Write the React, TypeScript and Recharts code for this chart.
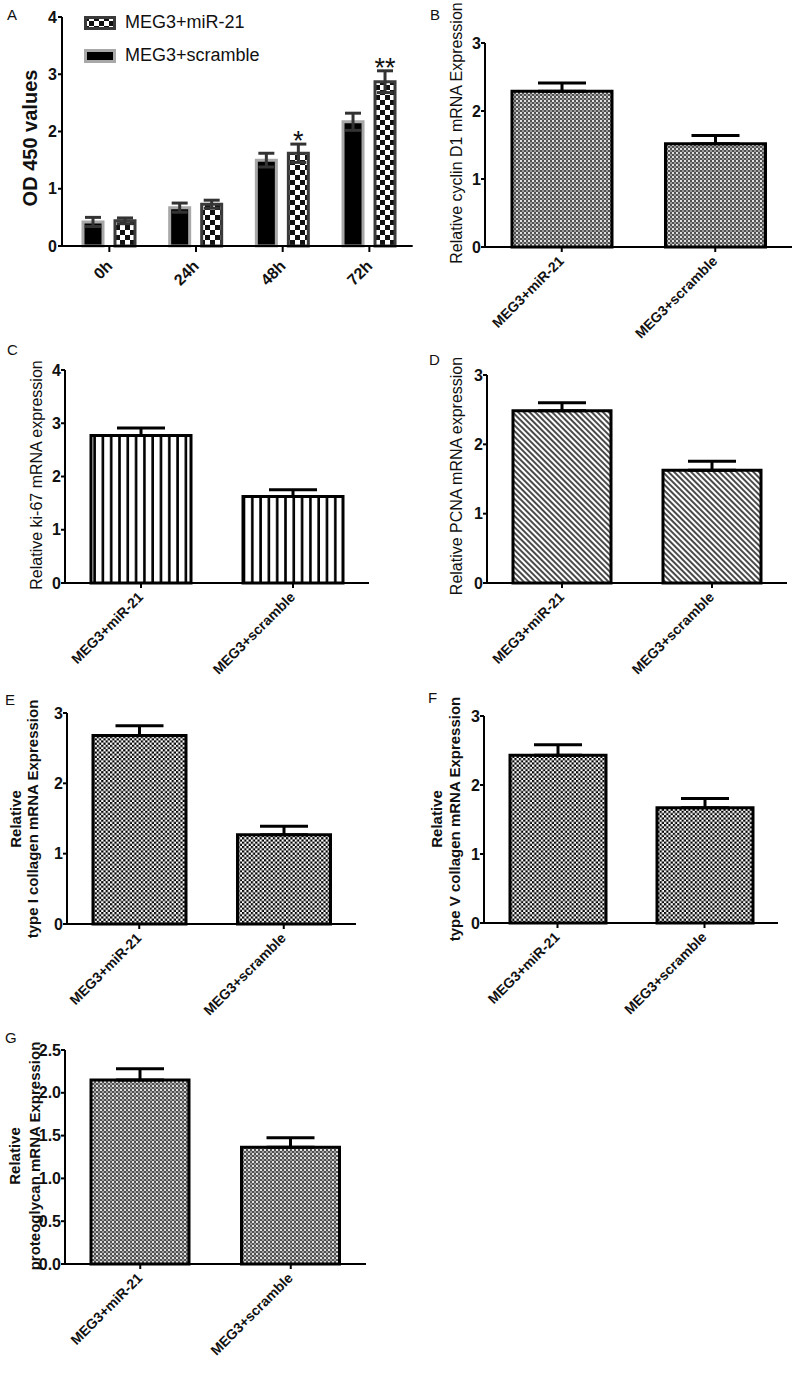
import React from "react";
import { BarChart, Bar, XAxis, YAxis, ErrorBar, LabelList, Legend } from "recharts";

const FONT = '"Liberation Sans", Arial, Helvetica, sans-serif';
const INK = "#111";

// Panel A — OD450 time course
const timePoints = ["0h", "24h", "48h", "72h"];
const scrambleOD = [0.42, 0.67, 1.5, 2.17];
const scrambleSD = [0.08, 0.08, 0.12, 0.15];
const mir21OD = [0.44, 0.73, 1.62, 2.87];
const mir21SD = [0.05, 0.07, 0.16, 0.19];
const odStars = ["", "", "*", "**"];
const odTicks = [0, 1, 2, 3, 4];

// Panels B–G — two groups each
const groups = ["MEG3+miR-21", "MEG3+scramble"];
const cyclinD1 = [2.29, 1.52];
const cyclinD1Err = [0.12, 0.12];
const ki67 = [2.77, 1.625];
const ki67Err = [0.14, 0.125];
const pcna = [2.485, 1.625];
const pcnaErr = [0.115, 0.13];
const collagenI = [2.68, 1.27];
const collagenIErr = [0.14, 0.12];
const collagenV = [2.43, 1.67];
const collagenVErr = [0.155, 0.135];
const proteoglycan = [2.15, 1.363];
const proteoglycanErr = [0.13, 0.113];
const ticks3 = [0, 1, 2, 3];
const ticks4 = [0, 1, 2, 3, 4];
const ticks25 = [0, 0.5, 1, 1.5, 2, 2.5];

/* ─── patterns ─────────────────────────────────────────── */

function Pattern({ id, kind }: { id: string; kind: string }) {
  if (kind === "fine") {
    return (
      <pattern id={id} width={4} height={4} patternUnits="userSpaceOnUse">
        <rect width={4} height={4} fill="#505050" />
        <rect x={0} y={0} width={2} height={2} fill="#e0e0e0" />
        <rect x={2} y={2} width={2} height={2} fill="#9a9a9a" />
      </pattern>
    );
  }
  if (kind === "stripes") {
    return (
      <pattern id={id} width={8.3} height={10} patternUnits="userSpaceOnUse">
        <rect width={8.3} height={10} fill="#fff" />
        <rect x={2} width={2.6} height={10} fill="#000" />
      </pattern>
    );
  }
  if (kind === "hatch") {
    return (
      <pattern id={id} width={4} height={4} patternUnits="userSpaceOnUse" patternTransform="rotate(-45)">
        <rect width={4} height={4} fill="#fff" />
        <rect width={2} height={4} fill="#4a4a4a" />
      </pattern>
    );
  }
  if (kind === "big") {
    return (
      <pattern id={id} width={10} height={10} patternUnits="userSpaceOnUse">
        <rect width={10} height={10} fill="#fff" />
        <rect width={5} height={5} fill="#111" />
        <rect x={5} y={5} width={5} height={5} fill="#111" />
      </pattern>
    );
  }
  // checker (E, F)
  return (
    <pattern id={id} width={4.4} height={4.4} patternUnits="userSpaceOnUse">
      <rect width={4.4} height={4.4} fill="#fff" />
      <rect width={2.2} height={2.2} fill="#000" />
      <rect x={2.2} y={2.2} width={2.2} height={2.2} fill="#000" />
    </pattern>
  );
}

/* ─── shared bits ──────────────────────────────────────── */

function makeTitle(lines: string[], xs: number[], cy: number, size: number, weight: string) {
  return function TitleContent() {
    return (
      <g>
        {lines.map((t, i) => (
          <text
            key={t}
            x={xs[i]}
            y={cy}
            transform={`rotate(-90, ${xs[i]}, ${cy})`}
            textAnchor="middle"
            dominantBaseline="central"
            fontFamily={FONT}
            fontSize={size}
            fontWeight={weight}
            fill={INK}
          >
            {t}
          </text>
        ))}
      </g>
    );
  };
}

function RotatedTick(props: any) {
  const { x, y, payload, size, dx, dy } = props;
  const ax = x + dx;
  const ay = y + dy;
  return (
    <text
      x={ax}
      y={ay}
      transform={`rotate(-45, ${ax}, ${ay})`}
      textAnchor="end"
      fontFamily={FONT}
      fontSize={size}
      fontWeight="bold"
      fill={INK}
    >
      {payload.value}
    </text>
  );
}

function PanelLetter({ letter, x, baseline }: { letter: string; x: number; baseline: number }) {
  return (
    <div
      style={{
        position: "absolute",
        left: x,
        top: baseline - 12.7,
        fontFamily: FONT,
        fontSize: 15,
        lineHeight: "15px",
        color: INK,
      }}
    >
      {letter}
    </div>
  );
}

type Box = { left: number; top: number; width: number; height: number };
type Plot = { x0: number; x1: number; y0: number; y1: number };

/* ─── Panel A ──────────────────────────────────────────── */

function LegendSwatch({ kind }: { kind: "checker" | "black" }) {
  return (
    <svg width={32} height={14} style={{ display: "block" }}>
      {kind === "checker" && (
        <defs>
          <Pattern id="legend-big" kind="big" />
        </defs>
      )}
      <rect
        x={1.5}
        y={1.5}
        width={29}
        height={11}
        fill={kind === "checker" ? "url(#legend-big)" : "#000"}
        stroke={kind === "checker" ? "#3a3a3a" : "#a8a8a8"}
        strokeWidth={3}
      />
    </svg>
  );
}

function LegendA() {
  const rows: { name: string; kind: "checker" | "black" }[] = [
    { name: "MEG3+miR-21", kind: "checker" },
    { name: "MEG3+scramble", kind: "black" },
  ];
  return (
    <div style={{ fontFamily: FONT, fontSize: 18, color: INK }}>
      {rows.map((r) => (
        <div key={r.name} style={{ display: "flex", alignItems: "center", height: 33 }}>
          <LegendSwatch kind={r.kind} />
          <span style={{ marginLeft: 9, whiteSpace: "nowrap" }}>{r.name}</span>
        </div>
      ))}
    </div>
  );
}

function StarLabel(props: any) {
  const vb = props.viewBox ?? props;
  const { index, value } = props;
  if (!value) return null;
  const v = mir21OD[index];
  const sd = mir21SD[index];
  const pxPerUnit = vb.height / v;
  const errTop = vb.y - sd * pxPerUnit;
  return (
    <text x={vb.x + vb.width / 2} y={errTop + 6} textAnchor="middle" fontFamily={FONT} fontSize={27} fill={INK}>
      {value}
    </text>
  );
}

function PanelA() {
  const box: Box = { left: 0, top: 0, width: 414, height: 350 };
  const plot: Plot = { x0: 62, x1: 412.7, y0: 17, y1: 246 };
  const data = timePoints.map((t, i) => ({
    time: t,
    scramble: scrambleOD[i],
    scrambleSd: scrambleSD[i],
    mir21: mir21OD[i],
    mir21Sd: mir21SD[i],
    star: odStars[i],
  }));
  return (
    <div style={{ position: "absolute", left: box.left, top: box.top }}>
      <BarChart
        width={box.width}
        height={box.height}
        data={data}
        margin={{ top: plot.y0 - box.top, right: box.left + box.width - plot.x1, left: 0, bottom: 0 }}
        barSize={20}
        barGap={12}
      >
        <defs>
          <Pattern id="pat-a" kind="big" />
        </defs>
        <XAxis
          dataKey="time"
          height={box.top + box.height - plot.y1}
          padding={{ left: 4, right: 0 }}
          interval={0}
          axisLine={{ stroke: "#000", strokeWidth: 2 }}
          tickLine={{ stroke: "#000", strokeWidth: 2 }}
          tickSize={6}
          tick={(p: any) => <RotatedTick {...p} size={16} dx={4} dy={13} />}
        />
        <YAxis
          width={plot.x0 - box.left}
          domain={[0, 4]}
          ticks={odTicks}
          interval={0}
          axisLine={{ stroke: "#000", strokeWidth: 2 }}
          tickLine={{ stroke: "#000", strokeWidth: 2 }}
          tickSize={4}
          tickMargin={1}
          tick={{ fill: INK, fontSize: 16, fontWeight: "bold", fontFamily: FONT }}
          label={makeTitle(["OD 450 values"], [30], 138, 20, "bold")}
        />
        <Legend
          layout="vertical"
          align="center"
          verticalAlign="middle"
          content={() => <LegendA />}
          wrapperStyle={{ left: 84, top: 6, width: 220, height: 66 }}
        />
        <Bar dataKey="scramble" fill="#000" stroke="#a8a8a8" strokeWidth={3} isAnimationActive={false}>
          <ErrorBar dataKey="scrambleSd" direction="y" width={8} stroke="#333" strokeWidth={3} />
        </Bar>
        <Bar dataKey="mir21" fill="url(#pat-a)" stroke="#3a3a3a" strokeWidth={3} isAnimationActive={false}>
          <ErrorBar dataKey="mir21Sd" direction="y" width={8} stroke="#333" strokeWidth={3} />
          <LabelList dataKey="star" content={StarLabel} />
        </Bar>
      </BarChart>
    </div>
  );
}

/* ─── Panels B–G ───────────────────────────────────────── */

type PanelSpec = {
  id: string;
  box: Box;
  plot: Plot;
  values: number[];
  errors: number[];
  ticks: number[];
  decimals: number;
  title: string[];
  titleX: number[];
  titleY: number;
  titleBold: boolean;
  fill: string;
  barSize: number;
};

function ExpressionPanel({ spec }: { spec: PanelSpec }) {
  const { box, plot } = spec;
  const data = groups.map((g, i) => ({ group: g, value: spec.values[i], err: [0, spec.errors[i]] }));
  const patId = `pat-${spec.id}`;
  return (
    <div style={{ position: "absolute", left: box.left, top: box.top }}>
      <BarChart
        width={box.width}
        height={box.height}
        data={data}
        margin={{ top: plot.y0 - box.top, right: box.left + box.width - plot.x1, left: 0, bottom: 0 }}
      >
        <defs>
          <Pattern id={patId} kind={spec.fill} />
        </defs>
        <XAxis
          dataKey="group"
          height={box.top + box.height - plot.y1}
          interval={0}
          axisLine={{ stroke: "#000", strokeWidth: 2 }}
          tickLine={{ stroke: "#000", strokeWidth: 2 }}
          tickSize={5}
          tick={(p: any) => <RotatedTick {...p} size={14} dx={3} dy={8} />}
        />
        <YAxis
          width={plot.x0 - box.left}
          domain={[spec.ticks[0], spec.ticks[spec.ticks.length - 1]]}
          ticks={spec.ticks}
          interval={0}
          tickFormatter={(v: number) => v.toFixed(spec.decimals)}
          axisLine={{ stroke: "#000", strokeWidth: 2 }}
          tickLine={{ stroke: "#000", strokeWidth: 2 }}
          tickSize={4}
          tickMargin={0}
          tick={{ fill: INK, fontSize: 16, fontWeight: "bold", fontFamily: FONT }}
          label={makeTitle(
            spec.title,
            spec.titleX.map((x) => x - box.left),
            spec.titleY - box.top,
            spec.titleBold ? 15 : 16,
            spec.titleBold ? "bold" : "normal"
          )}
        />
        <Bar
          dataKey="value"
          fill={`url(#${patId})`}
          stroke="#000"
          strokeWidth={3}
          barSize={spec.barSize}
          isAnimationActive={false}
        >
          <ErrorBar dataKey="err" direction="y" width={24} stroke="#000" strokeWidth={3} />
        </Bar>
      </BarChart>
    </div>
  );
}

const panelSpecs: PanelSpec[] = [
  {
    id: "b",
    box: { left: 400, top: 0, width: 400, height: 350 },
    plot: { x0: 485, x1: 792, y0: 43, y1: 247 },
    values: cyclinD1,
    errors: cyclinD1Err,
    ticks: ticks3,
    decimals: 0,
    title: ["Relative cyclin D1 mRNA Expression"],
    titleX: [456],
    titleY: 133,
    titleBold: false,
    fill: "fine",
    barSize: 100,
  },
  {
    id: "c",
    box: { left: 0, top: 335, width: 400, height: 345 },
    plot: { x0: 65, x1: 369, y0: 370, y1: 583 },
    values: ki67,
    errors: ki67Err,
    ticks: ticks4,
    decimals: 0,
    title: ["Relative ki-67 mRNA expression"],
    titleX: [36],
    titleY: 475,
    titleBold: false,
    fill: "stripes",
    barSize: 100,
  },
  {
    id: "d",
    box: { left: 400, top: 335, width: 400, height: 345 },
    plot: { x0: 487, x1: 787, y0: 375, y1: 583 },
    values: pcna,
    errors: pcnaErr,
    ticks: ticks3,
    decimals: 0,
    title: ["Relative PCNA mRNA expression"],
    titleX: [456],
    titleY: 476,
    titleBold: false,
    fill: "hatch",
    barSize: 98,
  },
  {
    id: "e",
    box: { left: 0, top: 670, width: 400, height: 350 },
    plot: { x0: 67, x1: 356, y0: 713, y1: 924 },
    values: collagenI,
    errors: collagenIErr,
    ticks: ticks3,
    decimals: 0,
    title: ["Relative", "type I collagen mRNA Expression"],
    titleX: [15, 32],
    titleY: 819,
    titleBold: true,
    fill: "checker",
    barSize: 93,
  },
  {
    id: "f",
    box: { left: 400, top: 670, width: 400, height: 350 },
    plot: { x0: 484, x1: 778, y0: 716, y1: 923 },
    values: collagenV,
    errors: collagenVErr,
    ticks: ticks3,
    decimals: 0,
    title: ["Relative", "type V collagen mRNA Expression"],
    titleX: [436, 454],
    titleY: 819,
    titleBold: true,
    fill: "checker",
    barSize: 96,
  },
  {
    id: "g",
    box: { left: 0, top: 1005, width: 400, height: 369 },
    plot: { x0: 65, x1: 366, y0: 1050, y1: 1264 },
    values: proteoglycan,
    errors: proteoglycanErr,
    ticks: ticks25,
    decimals: 1,
    title: ["Relative", "proteoglycan mRNA Expression"],
    titleX: [14, 34],
    titleY: 1156,
    titleBold: true,
    fill: "fine",
    barSize: 98,
  },
];

const letters = [
  { letter: "A", x: 7, baseline: 20 },
  { letter: "B", x: 430, baseline: 20 },
  { letter: "C", x: 7, baseline: 355 },
  { letter: "D", x: 429, baseline: 365 },
  { letter: "E", x: 5, baseline: 705 },
  { letter: "F", x: 428, baseline: 703 },
  { letter: "G", x: 5, baseline: 1043 },
];

export default function App() {
  return (
    <div style={{ position: "absolute", left: 0, top: 0, width: 800, height: 1374, background: "#fff" }}>
      <PanelA />
      {panelSpecs.map((s) => (
        <ExpressionPanel key={s.id} spec={s} />
      ))}
      {letters.map((l) => (
        <PanelLetter key={l.letter} {...l} />
      ))}
    </div>
  );
}
